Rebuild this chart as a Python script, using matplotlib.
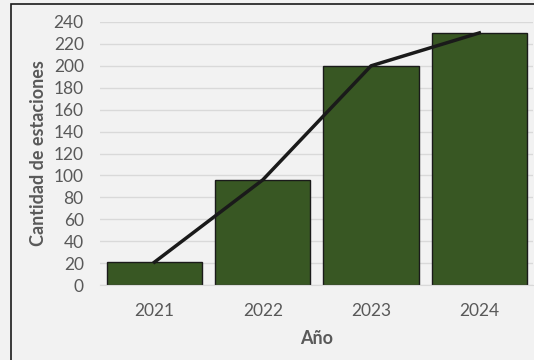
import matplotlib.pyplot as plt
from matplotlib.patches import Rectangle

years = ["2021", "2022", "2023", "2024"]
stations = [21, 96, 200, 230]
yticks = list(range(0, 241, 20))

plt.rcParams['font.family'] = ['Lato', 'DejaVu Sans']

fig = plt.figure(figsize=(5.34, 3.6), dpi=100, facecolor="#f2f2f2")
ax = fig.add_axes([0.188, 0.208, 0.811, 0.731])
ax.set_facecolor("#f2f2f2")

x = range(len(years))
ax.bar(x, stations, width=0.88, color="#385723", edgecolor="#1a1a1a",
       linewidth=1.0, zorder=2)
ax.plot(x, stations, color="#1a1a1a", linewidth=2.5, zorder=3)

ax.set_xlim(-0.5, len(years) - 0.5)
ax.set_ylim(0, 240)
ax.set_yticks(yticks)
ax.set_xticks(list(x))
ax.set_xticklabels(years)
ax.grid(axis="y", color="#d9d9d9", linewidth=1.0, zorder=0)
ax.set_axisbelow(True)
for s in ["top", "right", "left"]:
    ax.spines[s].set_visible(False)
ax.spines["bottom"].set_color("#d9d9d9")
ax.tick_params(length=0, labelsize=12.5, labelcolor="#595959")
ax.tick_params(axis="x", pad=13)
ax.tick_params(axis="y", pad=12)

ax.set_xlabel("Año", fontsize=13, fontweight="bold", color="#595959",
              labelpad=8)
ax.set_ylabel("Cantidad de estaciones", fontsize=13, fontweight="bold",
              color="#595959", labelpad=5)

# outer chart border (top and left visible)
fig.patches.append(Rectangle((11 / 534, -0.1), 1.2, (356 / 360) + 0.1,
                             transform=fig.transFigure, fill=False,
                             edgecolor="#1a1a1a", linewidth=1.2))

fig.savefig("out.png", dpi=100, facecolor=fig.get_facecolor())
